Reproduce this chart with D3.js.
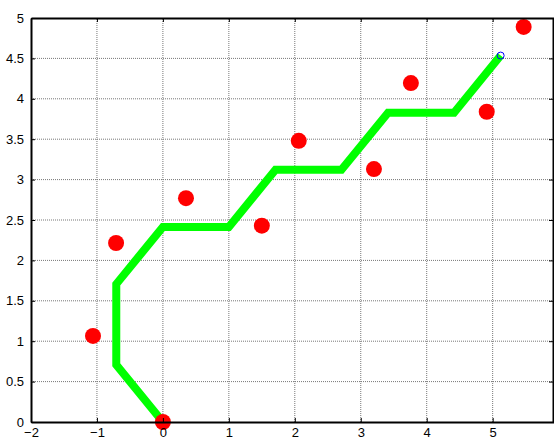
<!DOCTYPE html>
<html lang="en">
<head>
    <meta charset="UTF-8">
    <title>path and points</title>
    <script type="text/javascript" src="https://d3js.org/d3.v7.min.js"></script>
    <style>
        body { margin: 0; background: #fff; }
        text { font-family: "Liberation Sans", Arial, sans-serif; font-size: 13px; fill: #000; }
    </style>
</head>
<body>
<svg class="plot"></svg>

<script type="text/javascript">

    const width = 554;
    const height = 438;

    // green path vertices
    const pathX = [0, -0.707, -0.707, 0, 1, 1.707, 2.707, 3.414, 4.414, 5.121];
    const pathY = [0, 0.707, 1.707, 2.414, 2.414, 3.121, 3.121, 3.828, 3.828, 4.535];

    // red points
    const ptX = [-1.06, -0.71, 0.35, 0, 1.5, 2.06, 3.2, 3.76, 4.91, 5.47];
    const ptY = [1.065, 2.215, 2.77, 0, 2.43, 3.48, 3.13, 4.195, 3.84, 4.89];

    const xTicks = [-2, -1, 0, 1, 2, 3, 4, 5];
    const yTicks = [0, 0.5, 1, 1.5, 2, 2.5, 3, 3.5, 4, 4.5, 5];

    let svg = d3.select(".plot")
        .attr("width", width)
        .attr("height", height);

    let scaleX = d3.scaleLinear()
        .domain([-2, 5.93])
        .range([31, 554]);

    let scaleY = d3.scaleLinear()
        .domain([0, 5])
        .range([422, 18]);

    let fmt = d3.format("~g");

    let g = svg.append("g");

    // grid
    g.selectAll(".gx").data(xTicks.slice(1)).enter().append("line")
        .attr("x1", d => scaleX(d)).attr("x2", d => scaleX(d))
        .attr("y1", scaleY(0)).attr("y2", scaleY(5))
        .attr("stroke", "#777").attr("stroke-width", 1)
        .attr("stroke-dasharray", "1,1");

    g.selectAll(".gy").data(yTicks.slice(1, -1)).enter().append("line")
        .attr("x1", scaleX(-2)).attr("x2", width)
        .attr("y1", d => scaleY(d)).attr("y2", d => scaleY(d))
        .attr("stroke", "#777").attr("stroke-width", 1)
        .attr("stroke-dasharray", "1,1");

    // axes
    let xAxis = d3.axisBottom(scaleX).tickValues(xTicks).tickFormat(fmt).tickSizeInner(-4).tickSizeOuter(0).tickPadding(6);
    let yAxis = d3.axisLeft(scaleY).tickValues(yTicks).tickFormat(fmt).tickSizeInner(-4).tickSizeOuter(0).tickPadding(7);

    let gx = svg.append("g").attr("transform", "translate(0," + scaleY(0) + ")").call(xAxis);
    let gy = svg.append("g").attr("transform", "translate(" + scaleX(-2) + ",0)").call(yAxis);
    let gTop = svg.append("g").attr("transform", "translate(0," + scaleY(5) + ")")
        .call(d3.axisTop(scaleX).tickValues(xTicks).tickSizeInner(-4).tickSizeOuter(0).tickFormat(""));
    let gRight = svg.append("g").attr("transform", "translate(" + (width - 1) + ",0)")
        .call(d3.axisRight(scaleY).tickValues(yTicks).tickSizeInner(-4).tickSizeOuter(0).tickFormat(""));

    [gx, gy, gTop, gRight].forEach(a => {
        a.select(".domain").attr("stroke", "#000").attr("stroke-width", 2);
        a.selectAll(".tick line").attr("stroke", "#000");
        a.selectAll("text").attr("font-family", "Liberation Sans, Arial, sans-serif").attr("font-size", 13);
    });
    gx.selectAll("text").attr("dy", "0.71em");

    // green path
    let line = d3.line()
        .x((d, i) => scaleX(pathX[i]))
        .y((d, i) => scaleY(pathY[i]));

    g.append("path")
        .datum(pathX)
        .attr("d", line)
        .attr("fill", "none")
        .attr("stroke", "#00ff00")
        .attr("stroke-width", 8)
        .attr("stroke-linejoin", "miter");

    // end marker
    g.append("circle")
        .attr("cx", scaleX(pathX[pathX.length - 1]))
        .attr("cy", scaleY(pathY[pathY.length - 1]))
        .attr("r", 3.5)
        .attr("fill", "none")
        .attr("stroke", "#0000ff")
        .attr("stroke-width", 1);

    // red points
    g.selectAll(".pt").data(ptX).enter().append("circle")
        .attr("cx", d => scaleX(d))
        .attr("cy", (d, i) => scaleY(ptY[i]))
        .attr("r", 8)
        .attr("fill", "#ff0000");

</script>

</body>
</html>
